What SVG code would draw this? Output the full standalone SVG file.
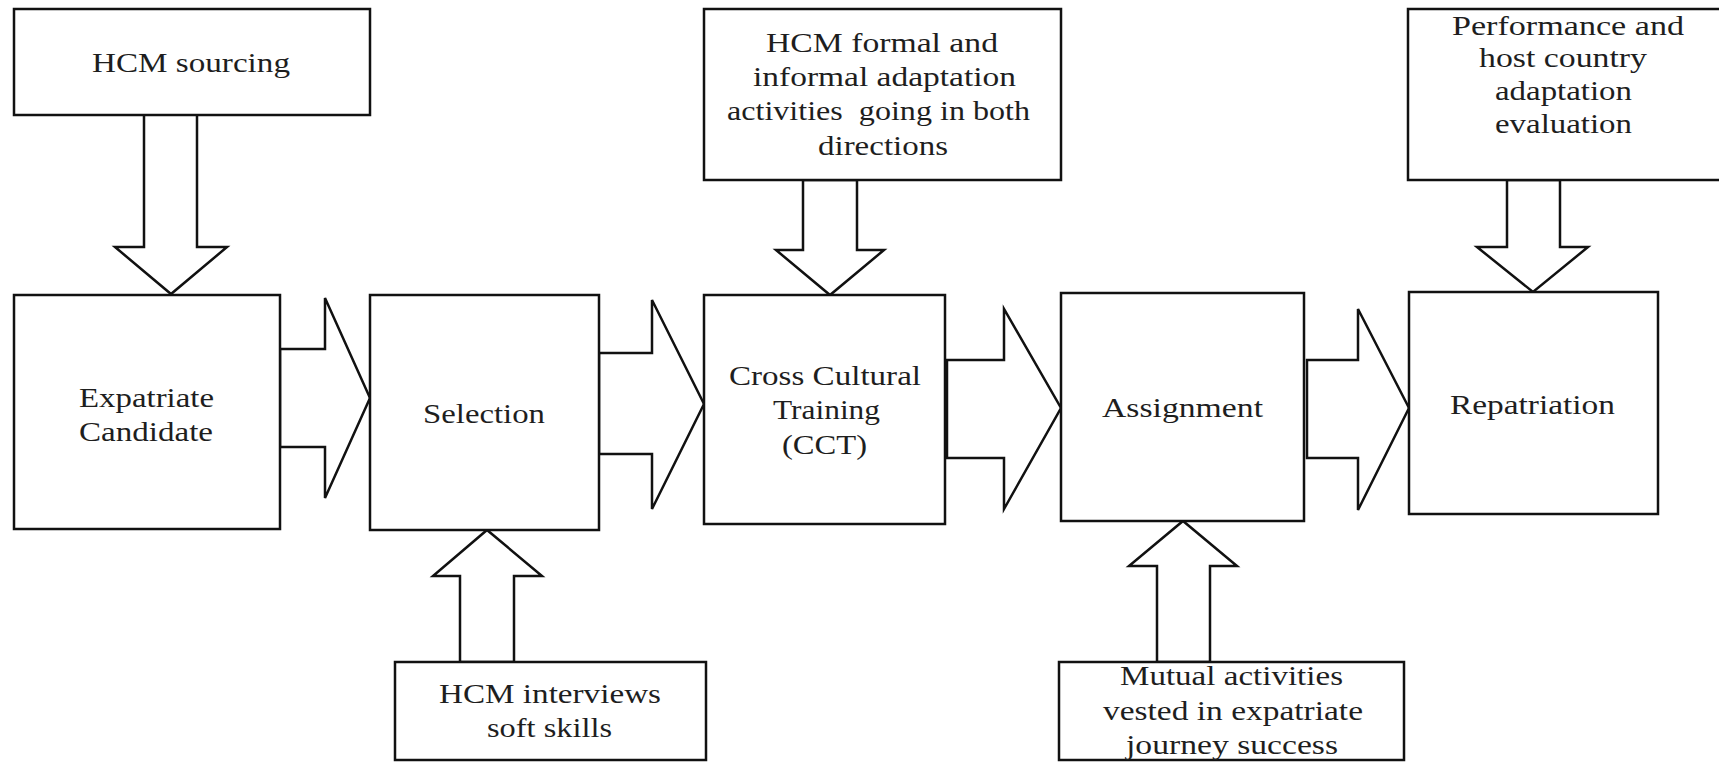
<svg xmlns="http://www.w3.org/2000/svg" width="1719" height="762" viewBox="0 0 1719 762">
<style>
.box{fill:#fff;stroke:#111;stroke-width:2.5}
.arr{fill:#fff;stroke:#111;stroke-width:2.5;stroke-linejoin:miter}
text{font-family:"Liberation Serif","Times New Roman",serif;font-size:28px;fill:#1e1e1e;text-anchor:middle}
</style>
<rect width="1719" height="762" fill="#fff"/>
<g id="connectors">
<polygon class="arr" points="144,114 197,114 197,247 227,247 171,294 115,247 144,247"/>
<polygon class="arr" points="280,349 325,349 325,298 370,398 325,498 325,447 280,447"/>
<polygon class="arr" points="599,353 652,353 652,300 704,404 652,509 652,454 599,454"/>
<polygon class="arr" points="803,180 857,180 857,250 884,250 830,295 776,250 803,250"/>
<polygon class="arr" points="460,662 460,576 433,576 487,530 542,576 514,576 514,662"/>
<polygon class="arr" points="947,360 1004,360 1004,309 1061,408 1004,509 1004,458 947,458"/>
<polygon class="arr" points="1157,662 1157,566 1129,566 1183,521 1237,566 1210,566 1210,662"/>
<polygon class="arr" points="1307,360 1358,360 1358,309 1409,408 1358,510 1358,458 1307,458"/>
<polygon class="arr" points="1507,180 1560,180 1560,247 1588,247 1533,292 1477,247 1507,247"/>
</g>
<g id="hcm-sourcing">
<rect class="box" x="14" y="9" width="356" height="106"/>
<text x="191" y="72" textLength="198" lengthAdjust="spacingAndGlyphs">HCM sourcing</text>
</g>
<g id="expatriate-candidate">
<rect class="box" x="14" y="295" width="266" height="234"/>
<text x="146.5" y="407" textLength="135" lengthAdjust="spacingAndGlyphs">Expatriate</text>
<text x="146" y="441" textLength="134" lengthAdjust="spacingAndGlyphs">Candidate</text>
</g>
<g id="selection">
<rect class="box" x="370" y="295" width="229" height="235"/>
<text x="484" y="423" textLength="122" lengthAdjust="spacingAndGlyphs">Selection</text>
</g>
<g id="cct">
<rect class="box" x="704" y="295" width="241" height="229"/>
<text x="825" y="385" textLength="192" lengthAdjust="spacingAndGlyphs">Cross Cultural</text>
<text x="826.5" y="419" textLength="107" lengthAdjust="spacingAndGlyphs">Training</text>
<text x="824.5" y="454" textLength="85" lengthAdjust="spacingAndGlyphs">(CCT)</text>
</g>
<g id="assignment">
<rect class="box" x="1061" y="293" width="243" height="228"/>
<text x="1182.5" y="417" textLength="161" lengthAdjust="spacingAndGlyphs">Assignment</text>
</g>
<g id="repatriation">
<rect class="box" x="1409" y="292" width="249" height="222"/>
<text x="1532.5" y="414" textLength="165" lengthAdjust="spacingAndGlyphs">Repatriation</text>
</g>
<g id="hcm-adaptation">
<rect class="box" x="704" y="9" width="357" height="171"/>
<text x="882" y="52" textLength="232" lengthAdjust="spacingAndGlyphs">HCM formal and</text>
<text x="884.5" y="86" textLength="263" lengthAdjust="spacingAndGlyphs">informal adaptation</text>
<text x="878.5" y="120" textLength="303" lengthAdjust="spacingAndGlyphs" xml:space="preserve">activities  going in both</text>
<text x="883" y="155" textLength="130" lengthAdjust="spacingAndGlyphs">directions</text>
</g>
<g id="performance-evaluation">
<rect class="box" x="1408" y="9" width="314" height="171"/>
<text x="1568" y="35" textLength="232" lengthAdjust="spacingAndGlyphs">Performance and</text>
<text x="1563" y="67" textLength="168" lengthAdjust="spacingAndGlyphs">host country</text>
<text x="1563.5" y="100" textLength="137" lengthAdjust="spacingAndGlyphs">adaptation</text>
<text x="1563.5" y="133" textLength="137" lengthAdjust="spacingAndGlyphs">evaluation</text>
</g>
<g id="hcm-interviews">
<rect class="box" x="395" y="662" width="311" height="98"/>
<text x="550" y="703" textLength="222" lengthAdjust="spacingAndGlyphs">HCM interviews</text>
<text x="549.5" y="737" textLength="125" lengthAdjust="spacingAndGlyphs">soft skills</text>
</g>
<g id="mutual-activities">
<rect class="box" x="1059" y="662" width="345" height="98"/>
<text x="1231.5" y="685" textLength="223" lengthAdjust="spacingAndGlyphs">Mutual activities</text>
<text x="1233" y="720" textLength="260" lengthAdjust="spacingAndGlyphs">vested in expatriate</text>
<text x="1232" y="754" textLength="212" lengthAdjust="spacingAndGlyphs">journey success</text>
</g>
</svg>
